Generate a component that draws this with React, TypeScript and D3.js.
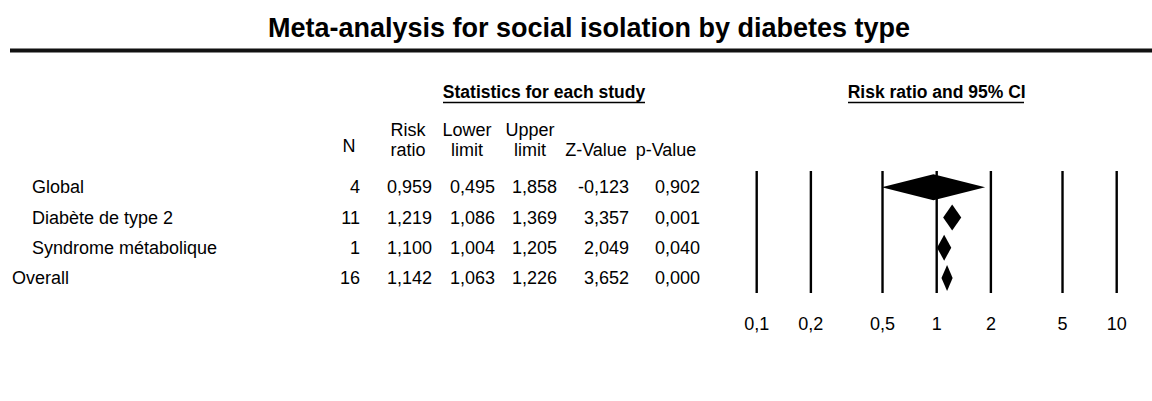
import * as d3 from "d3";

const groups = ["Global", "Diabète de type 2", "Syndrome métabolique", "Overall"];
const nStudies = [4, 11, 1, 16];
const riskRatio = [0.959, 1.219, 1.1, 1.142];
const lowerLimit = [0.495, 1.086, 1.004, 1.063];
const upperLimit = [1.858, 1.369, 1.205, 1.226];
const zValue = [-0.123, 3.357, 2.049, 3.652];
const pValue = [0.902, 0.001, 0.04, 0.0];
const axisTicks = [0.1, 0.2, 0.5, 1, 2, 5, 10];

const W = 1152,
  H = 401;
const FONT = "'Liberation Sans', Arial, sans-serif";
const FS = 18;

const locale = d3.formatLocale({
  decimal: ",",
  thousands: " ",
  grouping: [3],
  currency: ["", ""],
  minus: "-",
});
const f3 = locale.format(".3f");
const fTick = locale.format("~g");

export default function App() {
  // log axis for the risk ratio plot
  const x = d3.scaleLog().domain([0.1, 10]).range([756.7, 1116.7]);
  // one band per row
  const y = d3.scaleBand<string>().domain(groups).range([172, 293]);
  const cy = (g: string) => (y(g) ?? 0) + y.bandwidth() / 2;

  // table columns: right edge of numbers, centre of header
  const cols = [
    { h: ["Risk", "ratio"], right: 432, mid: 408, vals: riskRatio.map(f3) },
    { h: ["Lower", "limit"], right: 495, mid: 467, vals: lowerLimit.map(f3) },
    { h: ["Upper", "limit"], right: 557, mid: 530, vals: upperLimit.map(f3) },
    { h: ["", "Z-Value"], right: 629, mid: 596, vals: zValue.map(f3) },
    { h: ["", "p-Value"], right: 700, mid: 666, vals: pValue.map(f3) },
  ];

  const [y0, y1] = y.range();
  const half = 13;

  return (
    <svg
      width={W}
      height={H}
      style={{ position: "absolute", left: 0, top: 0, background: "#fff" }}
      fontFamily={FONT}
      fontSize={FS}
    >
      <text x={589} y={37} textAnchor="middle" fontWeight="bold" fontSize={27}>
        Meta-analysis for social isolation by diabetes type
      </text>
      <rect x={10} y={48.5} width={W - 10} height={4} fill="#111" />

      {/* section headers */}
      <text x={544} y={98} textAnchor="middle" fontWeight="bold" fontSize={17.5}>
        Statistics for each study
      </text>
      <line x1={443} x2={645} y1={102.5} y2={102.5} stroke="#000" strokeWidth={1.4} />
      <text x={x(1)} y={98} textAnchor="middle" fontWeight="bold" fontSize={17.5}>
        Risk ratio and 95% CI
      </text>
      <line x1={848} x2={1024} y1={102.5} y2={102.5} stroke="#000" strokeWidth={1.4} />

      {/* column headers */}
      <text x={349} y={152} textAnchor="middle">N</text>
      {cols.map((c, i) => (
        <g key={i}>
          <text x={c.mid} y={136} textAnchor="middle">{c.h[0]}</text>
          <text x={c.mid} y={156} textAnchor="middle">{c.h[1]}</text>
        </g>
      ))}

      {/* rows */}
      {groups.map((g, i) => {
        const isOverall = g === "Overall";
        return (
          <g key={g}>
            <text x={isOverall ? 12 : 32} y={cy(g)} dy="0.35em">{g}</text>
            <text x={360} y={cy(g)} dy="0.35em" textAnchor="end">{nStudies[i]}</text>
            {cols.map((c, j) => (
              <text key={j} x={c.right} y={cy(g)} dy="0.35em" textAnchor="end">
                {c.vals[i]}
              </text>
            ))}
          </g>
        );
      })}

      {/* reference lines */}
      {axisTicks.map((t) => (
        <g key={t}>
          <line x1={x(t)} x2={x(t)} y1={y0 - 1} y2={y1} stroke="#000" strokeWidth={2.4} />
          <text x={x(t)} y={330} textAnchor="middle">{fTick(t)}</text>
        </g>
      ))}

      {/* diamonds */}
      {groups.map((g, i) => {
        const c = cy(g);
        const pts = [
          [x(lowerLimit[i]), c],
          [x(riskRatio[i]), c - half],
          [x(upperLimit[i]), c],
          [x(riskRatio[i]), c + half],
        ];
        return <polygon key={g} points={pts.map((p) => p.join(",")).join(" ")} fill="#000" />;
      })}
    </svg>
  );
}
